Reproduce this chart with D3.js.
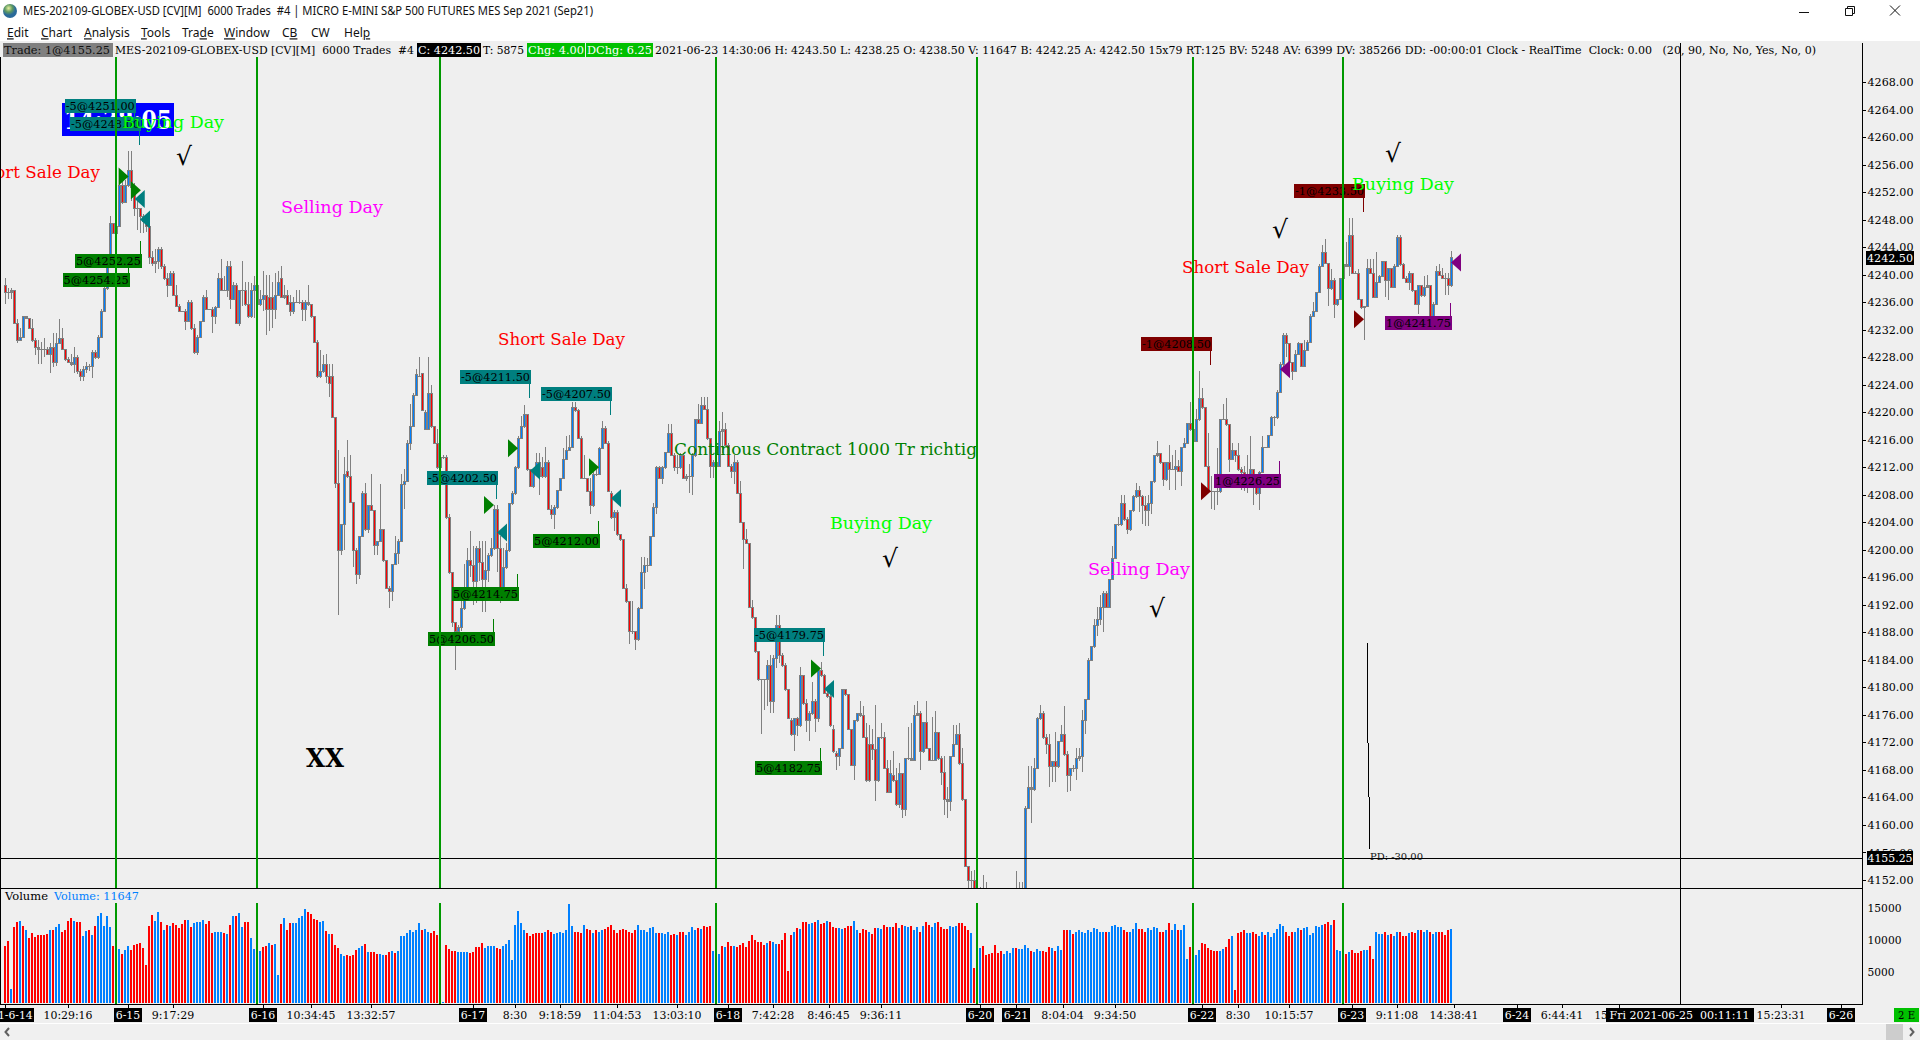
<!DOCTYPE html>
<html><head><meta charset="utf-8"><title>MES-202109-GLOBEX-USD</title>
<script src="https://cdn.jsdelivr.net/npm/d3@7"></script>
<style>html,body{margin:0;padding:0;background:#fff;overflow:hidden}svg{display:block}text{white-space:pre}</style>
</head><body><svg id="c" width="1920" height="1040" viewBox="0 0 1920 1040"></svg>
<script>
const closes=[
4237.5,4237.5,4237.75,4233,4230.5,4231,4234,4233.75,4232.25,4230.5,
4229.5,4229.25,4229.25,4229.25,4228.5,4229.5,4227.25,4230,4230.75,4229.25,
4227.75,4227.25,4227,4228,4226,4225.25,4226.25,4226.75,4226.75,4228.75,
4228,4231,4234.75,4238,4241.5,4247.5,4246,4247,4253,4250.5,
4253,4255.25,4252.75,4249.75,4249.75,4248.5,4247.75,4247,4242.5,4241.75,
4242,4243.75,4241.25,4239.5,4238.5,4240.25,4237,4235.5,4234.75,4234.75,
4233.25,4236,4232.25,4228.75,4231,4233.25,4236.75,4235,4235,4234,
4235.25,4239.5,4237.75,4237.75,4241.25,4236.5,4238.5,4233,4237.75,4237.75,
4235.75,4234,4237.75,4238.5,4235.75,4236.5,4237,4235,4235,4235,
4237,4239,4236.75,4236.75,4235.75,4234.75,4236,4236,4236,4235,
4236,4235.75,4234,4230.25,4225.25,4226,4227,4225.25,4224.25,4219.25,
4209.75,4200,4203.75,4211,4210.75,4207,4200,4196.5,4202,4208.25,
4203,4206.5,4205.75,4200.75,4201.25,4203,4198.5,4194.5,4194,4198,
4199.5,4201.25,4209.5,4210,4215.5,4218,4222.5,4225.5,4225.25,4220.25,
4220,4222.75,4218,4215.5,4212,4213.5,4213.5,4204.75,4196.75,4189.5,
4188.25,4188.75,4191.5,4192.75,4198.5,4197.75,4195.5,4200.25,4198.25,4195.75,
4197,4199.25,4200.25,4206,4200.25,4194.5,4197.5,4200,4206.75,4208.25,
4212,4216.25,4218,4219.75,4211.75,4209.25,4211.5,4212.75,4210.75,4210.75,
4212.75,4206,4205.25,4206.25,4208.75,4210.5,4213.25,4214.5,4215,4220.75,
4220.25,4216.25,4210.5,4210.5,4208.5,4206.5,4211,4211,4214.75,4217.75,
4215.5,4208.5,4204.75,4205.5,4202.25,4201.5,4194.5,4192.5,4188.25,4188.25,
4187,4191.5,4196.75,4197.75,4197.75,4202,4206.25,4212,4210.5,4212,
4214.25,4217,4213.75,4212,4212,4213.75,4210.5,4210.75,4210.75,4213.75,
4219,4218.5,4221,4220.5,4216.25,4212.25,4212.75,4212.25,4217.25,4217.5,
4215.25,4212.25,4211.5,4212.75,4208.25,4204,4201.5,4201,4191.75,4190.25,
4185.25,4181.25,4181.25,4181.25,4183.25,4178,4184.25,4189,4184.75,4183.25,
4179.75,4175.5,4173.25,4175.5,4174.5,4181.75,4177.75,4175.25,4176.25,4178,
4175.5,4182.5,4181.75,4179.25,4178.75,4174.5,4170.75,4170,4171.25,4179.75,
4179,4174,4168.75,4175.25,4176.25,4176,4172.75,4166.5,4166.5,4171,
4166.5,4172.75,4172.75,4168.25,4164.75,4167.5,4166.5,4163,4167.5,4162.25,
4169.75,4169.75,4169.5,4176,4176.25,4170.75,4175,4171.25,4169.5,4169.5,
4173.5,4169.75,4167.75,4163.75,4163.5,4170,4171.75,4173.25,4169,4163.75,
4154,4152,4152,4150.75,4150.5,4150.75,4150,4149,4148.5,4148,
4147.5,4147,4146.5,4147,4147.75,4148.5,4149.25,4148.5,4149,4149.5,
4162.5,4165.5,4165.25,4168.25,4175.5,4176.25,4172.75,4171.75,4168.5,4169.25,
4168.5,4172.25,4173.25,4170.25,4167.25,4168.25,4168.25,4169.75,4170,4175.25,
4178.25,4184,4186,4189,4190,4191.75,4193.75,4191.75,4195.75,4198.75,
4203.75,4203.75,4206.75,4204.5,4203,4205.75,4207.75,4208.75,4207.75,4206.5,
4205.75,4206.75,4210,4213.75,4214,4212.75,4210.25,4212.75,4211.75,4211.75,
4212.25,4211.5,4215,4215.5,4218.5,4217.5,4215.75,4219,4222,4220.75,
4212.25,4208.5,4208.5,4208.5,4208.5,4219,4219,4218.25,4213.25,4214.5,
4213.75,4211.75,4211.25,4210.5,4210.75,4211.75,4210.75,4208.25,4211.25,4215,
4215,4216.75,4219.25,4219.25,4223,4227,4231.25,4230,4227.25,4226,
4228.5,4230,4226.75,4229,4230.25,4234,4234.75,4237.5,4241.25,4243.25,
4241.75,4238,4239.25,4235.75,4236.5,4239.5,4241.5,4241.25,4245.75,4240.25,
4240.25,4236.5,4235.25,4235.5,4241,4240.25,4236.75,4239,4239.75,4242,
4239.25,4241,4238.25,4241.25,4245.5,4241.5,4239.5,4239,4240.25,4237.75,
4235.75,4238.5,4237,4238.25,4238.5,4234,4235.75,4240.5,4240,4239.5,
4239.5,4238.5,4242.5];
const highs=[
4239.5,4238,4238,4237.75,4233.5,4232.25,4234,4234,4233.75,4233.5,
4230.75,4230.5,4230.25,4230.75,4229.5,4230,4231.5,4231.5,4233.5,4232.25,
4229.25,4228,4228.5,4229.5,4228.25,4226.25,4226.75,4227.25,4227,4229,
4229,4231.25,4235,4238.25,4241.75,4248.5,4247.5,4248.25,4254.5,4253.75,
4253.75,4258,4258,4253.25,4250.75,4249.75,4248.75,4248.5,4247,4243.5,
4243.75,4244,4244,4241.5,4240.25,4240.5,4240.5,4238.5,4235.75,4234.75,
4235,4236.25,4236.25,4232.75,4231.25,4233.25,4237,4237.75,4235,4235.25,
4235.5,4240.25,4242.25,4239.75,4242,4242,4239,4238.75,4237.75,4242,
4239,4239,4238.75,4239.75,4238.5,4237.75,4240.5,4240,4240,4239,
4240.25,4240.5,4241.25,4238.5,4237.75,4237,4236.75,4237.75,4237.75,4236.25,
4236.25,4238.5,4235.75,4234,4230.5,4229,4228.25,4228.5,4227,4227,
4219,4214.5,4203.75,4213.5,4216,4213.75,4207,4200.25,4202,4208.5,
4209.75,4206.5,4211,4205.75,4201.25,4209.5,4203,4198.5,4194.75,4198,
4202,4201.5,4211,4211.75,4216,4221.25,4222.75,4226.25,4228,4225.75,
4220.25,4228,4224,4218,4217.5,4213.75,4213.75,4213.75,4205.25,4196.75,
4189.5,4189,4192.5,4198,4200.25,4202.75,4200.5,4200.5,4201.25,4201.25,
4201.25,4199.5,4201.75,4206.5,4206.5,4202,4200.25,4201,4206.75,4208.5,
4212.25,4216.5,4219.5,4221,4219.75,4211.75,4211.5,4214,4214,4213.5,
4215,4213,4206.5,4206.5,4208.75,4210.5,4214.75,4216.5,4216.75,4221.5,
4221.5,4220.5,4216.5,4213.75,4210.5,4210.5,4211.25,4211.75,4215,4218.75,
4218,4215.75,4208.5,4205.75,4205.75,4202.25,4201.5,4195,4192.5,4192.5,
4188,4191.75,4199,4199,4198.75,4202,4206.75,4212.25,4212.25,4212.25,
4214.25,4218.25,4218.25,4214,4213.75,4214,4214,4211,4212.5,4214,
4219,4221.25,4222.25,4222.25,4222.25,4216.25,4213,4216,4218.75,4220,
4218.5,4215.5,4212.5,4213.75,4213,4210,4203.75,4203,4201,4192.75,
4190.25,4185.25,4181.25,4181.25,4184,4184.75,4184.75,4190.5,4190.5,4185,
4183.5,4179.75,4175.5,4175.5,4175.75,4183,4181.75,4178.25,4176.5,4180.75,
4178.25,4182.5,4183.75,4182,4180,4179.5,4174.5,4170.75,4171.25,4179.75,
4179.75,4179,4174,4175.25,4176.25,4178,4177.25,4174.75,4174.5,4174,
4177.5,4172.75,4174.75,4173.5,4169.5,4169.5,4170.75,4168.25,4169,4167.5,
4169.75,4174.25,4174.75,4177.5,4178,4176.5,4175,4178,4171.25,4175.75,
4176.5,4173.5,4170,4170,4165.5,4170,4174.5,4174.5,4174.75,4171.25,
4163.75,4154,4153.25,4153.5,4152.75,4151,4152.75,4151.75,4150,4149.5,
4149,4148.5,4148,4148,4149,4150,4150.5,4153.25,4151.75,4151.75,
4162.75,4168.5,4168.5,4169.75,4175.75,4177.5,4176.5,4173.25,4173.25,4169.25,
4173.5,4172.25,4174.5,4177.25,4170.75,4168.25,4168.75,4171.25,4171.25,4176.75,
4178.25,4184.25,4186,4190,4191.75,4193.5,4194,4194,4195.75,4200.5,
4203.75,4204.75,4208,4208,4204.75,4205.75,4208,4209.75,4209.25,4208,
4207.75,4208,4210,4213.75,4215.75,4214,4212.75,4212.75,4215.25,4213.75,
4214.5,4213,4215,4216.25,4218.5,4221.5,4217.5,4220.5,4226,4223.5,
4220.75,4217,4210.75,4208.5,4214.75,4219,4221.25,4222,4218.25,4215.5,
4214.5,4215.5,4212,4212.25,4213.75,4216.5,4211.75,4211,4211.5,4216.5,
4215,4216.75,4219.5,4219.5,4223.25,4227.25,4231.5,4231.5,4230,4227.25,
4229,4230.25,4230,4230.5,4230.5,4234.25,4236,4237.5,4241.5,4244.25,
4245.25,4241.75,4240.75,4239.5,4236.5,4239.5,4241.75,4244.75,4248.25,4248.25,
4240.5,4240.75,4236.5,4235.5,4242.25,4242.25,4242.25,4243.25,4240,4242,
4242,4241,4241,4241.5,4245.75,4245.75,4241.75,4239.75,4240.5,4240.25,
4237.75,4238.5,4238.5,4239.75,4240,4238.5,4236,4241.25,4241.5,4241,
4240.25,4240.25,4243.5];
const lows=[
4235.75,4236.5,4236.5,4233,4230,4230.5,4231,4233.75,4232.25,4230.25,
4228.25,4227,4227,4228,4228.25,4225.75,4226.5,4226.75,4230,4229,
4227.5,4227.25,4226.75,4225.75,4225.5,4224.5,4224.5,4225.75,4226,4225,
4227.75,4227.75,4231,4234.5,4237.75,4241.5,4246,4246,4248,4250.25,
4250.5,4252.75,4250.75,4248.5,4246.5,4246,4246,4246.25,4241.5,4241.25,
4240.25,4240.75,4240.75,4239.25,4236.75,4238.5,4237,4235.25,4234.5,4234.5,
4232,4233.25,4232,4228.5,4228.25,4231,4233.25,4235,4235,4231.5,
4232.75,4235.25,4237.75,4237.75,4236.75,4235,4236.25,4232.75,4232.5,4235.5,
4235.5,4233.75,4233.75,4233.75,4235.5,4235.5,4234.75,4231.25,4231.75,4232.25,
4233.5,4237,4236.75,4236.5,4235.75,4234,4234.25,4236,4235.75,4233.25,
4233.25,4235.5,4233.75,4230,4225,4225,4225.75,4224.25,4222.25,4219.25,
4209,4190.5,4199.25,4200,4210.5,4206.75,4197.5,4195,4195.75,4202,
4202.75,4202.5,4205.75,4199.25,4199.25,4201.25,4198.25,4194.5,4191.5,4192.5,
4198,4198,4201.25,4206,4210,4214.5,4218,4222.5,4225.25,4220.25,
4217.5,4217.5,4217.75,4215.5,4211.75,4212,4213.25,4204.5,4196.5,4188.75,
4182.5,4187.75,4188.25,4191.25,4192.5,4196,4192,4192.25,4195.5,4191,
4191,4195.25,4199,4200,4196.75,4192.25,4193.75,4197.25,4199.75,4206.5,
4208,4211.75,4216.25,4217.75,4211.5,4209.25,4209,4211.5,4208,4210.5,
4210.5,4205.75,4204.5,4203,4206,4208.5,4210.5,4213,4214.75,4214.75,
4220,4216.25,4210.5,4210.5,4208.5,4205.25,4206.25,4210.75,4211,4214.75,
4215.5,4208.5,4204.5,4202.75,4202,4201.25,4194.25,4192.25,4186.25,4187.75,
4185.5,4186.75,4191.5,4194.25,4196.75,4197.75,4202,4205.25,4210.25,4209.5,
4211.75,4214,4213.75,4211.5,4211,4211.75,4210.25,4210,4208.25,4208,
4213.5,4218.5,4218.25,4220.25,4216,4210.5,4210.5,4212.25,4212.25,4214,
4215.25,4212.25,4210.5,4209.5,4208.25,4204,4197.25,4201,4191.5,4190,
4185,4181,4173.25,4176.75,4177.25,4176.25,4176.25,4182.75,4183.5,4183,
4179.5,4175.5,4173,4170.75,4173,4174.25,4177.5,4173.5,4172.25,4176,
4173.5,4175,4181.5,4179,4178.5,4174.25,4170.5,4168,4168.5,4171,
4178.75,4173.75,4168.5,4166.5,4175,4175.75,4172.75,4166.25,4166.25,4169.5,
4163.5,4166.25,4172.5,4168.25,4164.75,4164.75,4166.25,4162.75,4162.5,4161,
4161.25,4169.5,4169.5,4169.25,4176.25,4168,4170.5,4171.25,4169.25,4169.25,
4169.5,4169.5,4165.75,4161.5,4161,4162,4170,4171.75,4168.75,4163.5,
4154,4150.75,4150.75,4150.75,4149.5,4149,4148.5,4148,4147.5,4147,
4146.5,4146,4145.5,4146,4146.5,4147.5,4148.5,4147.5,4148,4148.5,
4149.25,4162.5,4160.25,4165,4168.25,4175.25,4172.5,4170.25,4165.5,4166.25,
4166.25,4168.25,4172,4170,4164.75,4165,4167.75,4166.5,4169.25,4167.75,
4173.25,4178.25,4184.25,4185.75,4187.5,4189,4188,4191.5,4191.5,4195.75,
4198.75,4203.5,4203.5,4204.25,4202.25,4202.75,4205.5,4207.5,4205.5,4203.75,
4203.5,4203.5,4205.25,4209.75,4213.5,4212.5,4209.25,4210,4208.75,4211.75,
4208.75,4211.25,4209.25,4214.75,4215.5,4217.25,4215.75,4215.75,4218.75,4220.5,
4212.25,4208.25,4206,4205.75,4206.5,4208.25,4219,4218,4211.25,4213,
4212.75,4211.5,4208.75,4208.5,4208.25,4210.5,4206.5,4208,4205.75,4211.25,
4214.75,4214.75,4216.75,4218,4219,4223,4226.5,4228,4227.25,4224.75,
4226,4228.5,4226.5,4226.5,4229,4230,4234,4234.75,4237.5,4241.25,
4241.5,4235.5,4237.75,4233.75,4235.5,4236.5,4239.5,4241.25,4239.75,4240.25,
4240.25,4236.25,4235,4230.5,4235.5,4240.25,4236.75,4236.75,4239,4239.75,
4236.75,4236.25,4238.25,4238.25,4241.25,4241.25,4239.5,4238.75,4237.75,4237.5,
4235.75,4234.25,4236.75,4236.75,4238.25,4234,4232.5,4235.75,4240,4239.5,
4237,4237,4238.25];
// bars whose open differs from the previous close: [bar, open]
const openExceptions=[[0,4238.5],[88,4236.75],[89,4236.75],[92,4239.5],[93,4237],[94,4237],[95,4236],[109,4225.25],[114,4211.5],[115,4210.75],[138,4225.25],[139,4225.75],[140,4217.5],[141,4217.5],[179,4212],[202,4208.25],[262,4175.25],[276,4174],[277,4170.5],[288,4171.75],[289,4171.75],[296,4167.25]];
// signed volume: positive = up bar (blue), negative = down bar (red)
const signedVolume=[
-8960,-9740,2240,-12080,-12860,13020,-12130,11460,-10260,-10990,
-10420,-10680,-10680,-10680,-10880,11610,-11460,11980,12550,-11200,
-11560,-13020,-13490,13020,-12860,-12760,10520,11350,-11460,10680,
-12240,13800,14170,12240,13800,12080,-8960,9370,8490,-7810,
8330,8960,-8440,-9110,-9270,-9430,-8750,-5990,-12240,-13960,
13020,14430,-12860,11610,-12400,12240,-12650,-12400,-11870,-12500,
-13130,13180,-11980,12600,12760,12860,13070,-12500,-13020,-11040,
11300,11300,11300,-11090,10880,-12400,13800,-13800,14270,12080,
-12760,-12860,10210,8490,-8960,8230,-8800,-8960,9430,-9110,
9270,4430,-12550,13490,-11610,-12600,12710,12710,13490,13800,
14900,-14430,-14120,-13330,-13070,12860,13020,-11350,10830,-10830,
-9110,-8750,7710,7400,-7550,-7450,-7550,-8330,8650,8960,
-9270,8020,-8020,-8020,-7710,7710,7550,-7550,-8020,8180,
-7860,8180,10520,10520,11140,11610,11300,11460,12710,-11460,
11770,11300,-10990,-11350,-10680,-10680,210,-9110,-8490,-8180,
-8180,8020,8020,8020,8020,-7860,-8020,-8800,-8800,-9430,
8650,8960,8960,8960,-8650,-8490,8960,9270,9900,6770,
12400,14580,12710,11610,-11140,-10520,-10830,-11140,-10990,-10990,
11300,-11460,-11300,10830,10990,11300,10990,11610,15680,12240,
-11300,-11300,-11140,12400,-11770,-11460,11140,-11610,11300,11610,
-11770,-12080,-12400,-11610,-11140,-11460,-11770,-11460,-11300,-11140,
-11460,12400,11610,11610,11300,11930,12080,10990,-10990,10990,
10830,11300,-10680,-10830,10680,-11150,-11150,10680,11300,12080,
11610,-11930,11770,-12240,-12080,-12240,8180,7900,7710,-8960,
8800,-9580,-8960,8960,-8800,-9110,-9430,-8800,-9740,-10680,
-9900,-9580,-9580,-9110,9430,-9740,9580,9270,-9270,-9900,
-10990,-5050,-10680,11150,-11930,11770,-12860,-12860,12550,12710,
-12860,13180,-12550,-12710,13020,-12860,-12080,-11930,11930,11770,
-11930,-12240,-12240,13020,11610,-10990,-11770,-11610,11150,-10830,
-11930,11930,11770,-12400,-12080,12080,-12080,-12710,11930,-12400,
12240,12080,-12240,11610,12080,-11300,12240,-12860,-12400,12080,
12710,-12860,-12080,-11770,-11770,12240,12080,12240,-12710,-12710,
-12240,-11460,10990,-5520,9000,8650,-8960,-7550,-7710,-7860,
-9110,-7860,-8180,7710,8180,7860,8650,-8650,8490,8490,
9110,8650,-8180,8020,8490,8180,-8180,-8020,-8800,8650,
-8180,8960,8330,-11460,-11610,11610,-10830,11150,11460,11300,
10990,11610,11300,11930,11770,11300,11300,-11150,11300,12240,
12400,12080,12080,-11460,-11150,11150,11770,12710,-11770,-11770,
-11150,11930,11610,12080,11930,-11300,-11150,11610,-12710,11610,
12550,-11610,11460,12400,6930,-8800,8330,7550,8330,-9430,
-9270,-8650,-8330,-8180,-8180,8180,8490,-8800,-10050,10520,
-2080,-10990,-11150,-11610,10990,10990,-11150,-10830,10520,11300,
-10680,11150,10360,10990,11770,12550,12240,-11300,-10520,-11150,
11300,11930,-11460,11930,12080,10680,10990,12240,12080,12400,
-12550,-12860,12400,-13180,8330,8180,8000,-7710,8020,-8330,
-7860,-7860,-8180,8330,8330,-8960,-6930,11300,10830,10830,
-11150,10680,-10830,10520,11150,-11300,-10520,-10520,10990,-11300,
-10990,11460,-11610,11150,11610,-11300,10830,11300,-11150,-11150,
-10680,-11610,11647];

const priceTicks=d3.range(4152,4269,4);
const volumeTicks=[5000,10000,15000];
const dayStartBars=[37,84,145,237,324,396,446];
const timeTickBars=[0,21,41,56,86,102,122,156,170,185,204,224,241,256,274.5,292,325,337,352.5,370,399,411,428,449,464,483,504,519,538,592,612];
const timeTickLabels=["2021-6-14","10:29:16","6-15","9:17:29","6-16","10:34:45","13:32:57","6-17","8:30","9:18:59","11:04:53","13:03:10","6-18","7:42:28","8:46:45","9:36:11","6-20","6-21","8:04:04","9:34:50","6-22","8:30","10:15:57","6-23","9:11:08","14:38:41","6-24","6:44:41","15","15:23:31","6-26"];
const crosshairBar=558.2, crosshairLabel="Fri 2021-06-25  00:11:11";
const lastTradePrice=4155.25, lastClose=4242.5;
const tradeLabels=["5@4254.25","5@4252.25","-5@4251.00","-5@4248.00","5@4206.50","5@4214.75","-5@4202.50","-5@4211.50","5@4212.00","-5@4207.50","5@4182.75","-5@4179.75","-1@4208.50","1@4226.25","-1@4233.50","1@4241.75"];
const tradePrices=[4254.25,4252.25,4251,4248,4206.5,4214.75,4202.5,4211.5,4212,4207.5,4182.75,4179.75,4208.5,4226.25,4233.5,4241.75];
const tradeBars=[41.2,45.3,43.25,45,163,171,164,175,198,202,272,273,402,425,453,482];
const tradeLabelTops=[273,254,99,117,632,587,471,370,534,387,761,628,337,474,184,316];
const pdBars=[454,454.33,455], pdPrices=[4186.5,4172,4156.5];

const svg=d3.select("#c");
const xS=d3.scaleLinear([0,482],[5,1451]);
const yS=d3.scaleLinear([4152,4268],[880,82]);
const vS=d3.scaleLinear([0,15000],[1003.3,908]);
const SERIF='"DejaVu Serif"', SANS='"Noto Sans"';
const BG="#efefef";
function txt(g,s,x,y,o={}){
  const t=g.append("text").attr("x",x).attr("y",y).attr("dy","0.36em").text(s)
   .attr("font-family",o.f||SERIF).attr("font-size",o.s||11).attr("fill",o.c||"#000")
   .attr("text-anchor",o.a||"start");
  if(o.w)t.attr("font-weight",o.w);
  if(o.l)t.attr("textLength",o.l).attr("lengthAdjust","spacingAndGlyphs");
  return t;
}
function rect(g,x,y,w,h,c){return g.append("rect").attr("x",x).attr("y",y).attr("width",w).attr("height",h).attr("fill",c).attr("shape-rendering","crispEdges");}

// window chrome
rect(svg,0,0,1920,1040,"#fff");
rect(svg,0,41,1920,982,BG);
rect(svg,0,1024,1920,16,"#f0f0f0");
const defs=svg.append("defs");
const gr=defs.append("radialGradient").attr("id","globe").attr("cx","40%").attr("cy","30%");
gr.append("stop").attr("offset","0%").attr("stop-color","#e8f0a0");
gr.append("stop").attr("offset","55%").attr("stop-color","#5f9a60");
gr.append("stop").attr("offset","100%").attr("stop-color","#2a6a9a");
svg.append("circle").attr("cx",10).attr("cy",11).attr("r",7).attr("fill","url(#globe)");
txt(svg,"MES-202109-GLOBEX-USD [CV][M]  6000 Trades  #4 | MICRO E-MINI S&P 500 FUTURES MES Sep 2021 (Sep21)",23,11,{f:SANS,s:12,l:570,c:"#111"});
const menuNames=["Edit","Chart","Analysis","Tools","Trade","Window","CB","CW","Help"];
const menuX=[7,41,84,141,182,224,282,311,344];
const menuUnderline=[0,0,0,0,3,0,1,-1,3];
menuNames.forEach((m,i)=>{
  const t=txt(svg,"",menuX[i],33,{f:SANS,s:12,c:"#111"});
  [...m].forEach((ch,k)=>{const ts=t.append("tspan").text(ch);if(k===menuUnderline[i])ts.attr("text-decoration","underline");});
});
const wc=svg.append("g").attr("stroke","#111").attr("fill","none").attr("stroke-width",1);
wc.append("path").attr("d","M1799 12.5H1809");
wc.append("path").attr("d","M1845.5 8.5h7v7h-7zM1847.5 8.5v-2h7v7h-2");
wc.append("path").attr("d","M1890 5.5L1900 15.5M1900 5.5L1890 15.5");

// status strip
const sY=50;
[[3,110,"#808080"],[417,64,"#000"],[527,58,"#00c000"],[586,67,"#00c000"]].forEach(d=>rect(svg,d[0],43,d[1],14,d[2]));
txt(svg,"Trade: 1@4155.25",4,sY,{l:106,c:"#111"});
txt(svg,"MES-202109-GLOBEX-USD [CV][M]  6000 Trades  #4",115,sY,{l:299});
txt(svg,"C: 4242.50",418,sY,{l:62,c:"#fff"});
txt(svg,"T: 5875",483,sY,{l:41});
txt(svg,"Chg: 4.00",528,sY,{l:56,c:"#fff"});
txt(svg,"DChg: 6.25",587,sY,{l:65,c:"#fff"});
txt(svg,"2021-06-23 14:30:06 H: 4243.50 L: 4238.25 O: 4238.50 V: 11647 B: 4242.25 A: 4242.50 15x79 RT:125 BV: 5248",655,sY,{l:624});
txt(svg,"AV: 6399 DV: 385266 DD: -00:00:01 Clock - RealTime  Clock: 0.00   (20, 90, No, No, Yes, No, 0)",1283,sY,{l:533});

// panels
const clip=defs.append("clipPath").attr("id","mainClip");
clip.append("rect").attr("x",0).attr("y",57).attr("width",1862).attr("height",831);
const main=svg.append("g").attr("clip-path","url(#mainClip)");

// candles
const openOverride=new Map(openExceptions);
const candles=closes.map((c,i)=>{
  const o=openOverride.has(i)?openOverride.get(i):closes[i-1];
  return {i,o,c,h:Math.max(highs[i],o,c),l:Math.min(lows[i],o,c)};
});
const cg=main.append("g").attr("shape-rendering","crispEdges");
cg.selectAll("rect.w").data(candles).join("rect").attr("class","w")
  .attr("x",d=>Math.round(xS(d.i))).attr("width",1)
  .attr("y",d=>Math.round(yS(d.h))).attr("height",d=>Math.max(1,Math.round(yS(d.l))-Math.round(yS(d.h))))
  .attr("fill","#808080");
cg.selectAll("rect.b").data(candles).join("rect").attr("class","b")
  .attr("x",d=>Math.round(xS(d.i))-1).attr("width",3)
  .attr("y",d=>Math.round(yS(Math.max(d.o,d.c))))
  .attr("height",d=>Math.max(1,Math.round(yS(Math.min(d.o,d.c)))-Math.round(yS(Math.max(d.o,d.c)))+1))
  .attr("fill","#808080");
cg.selectAll("rect.f").data(candles.filter(d=>Math.abs(yS(d.o)-yS(d.c))>=2.5)).join("rect").attr("class","f")
  .attr("x",d=>Math.round(xS(d.i))).attr("width",1)
  .attr("y",d=>Math.round(yS(Math.max(d.o,d.c)))+1)
  .attr("height",d=>Math.round(yS(Math.min(d.o,d.c)))-Math.round(yS(Math.max(d.o,d.c)))-1)
  .attr("fill",d=>d.c>d.o?"#0080ff":"#ff0000");

// clock box & day annotations
rect(main,62,103,112,33,"#0000ff");
txt(main,"14:38:05",118,120,{s:26,w:"bold",c:"#fff",a:"middle",l:108});

// trade labels + markers
const tradeColor=l=>l.startsWith("-5")?"#007f7f":l.startsWith("5")?"#007f00":l.startsWith("-1")?"#7f0000":"#7f007f";
tradeLabels.forEach((lab,i)=>{
  const col=tradeColor(lab), x=xS(tradeBars[i]), y=yS(tradePrices[i]);
  const pointsRight=lab.startsWith("5")||lab.startsWith("-1");
  const w=lab.startsWith("-")?71:67, top=tradeLabelTops[i], right=x+1;
  main.append("path").attr("fill",col)
    .attr("d",pointsRight?`M${x-10} ${y-9}L${x} ${y}L${x-10} ${y+9}Z`:`M${x} ${y}L${x+10} ${y-9}L${x+10} ${y+9}Z`);
  const stemDown=lab.startsWith("-");
  rect(main,Math.round(right)-2,stemDown?top+14:top-13,1,stemDown?14:13,col);
  rect(main,right-w,top,w,14,col);
  txt(main,lab,right-w+1,top+7,{l:w-2,c:"#000"});
});
const annotations=[
 ["Short Sale Day",-27,172,127,"#ff0000"],["Short Sale Day",1182,267,127,"#ff0000"],["Short Sale Day",498,339,127,"#ff0000"],
 ["Buying Day",122,122,102,"#00ff00"],["Buying Day",1352,184,102,"#00ff00"],["Buying Day",830,523,102,"#00ff00"],
 ["Selling Day",281,207,102,"#ff00ff"],["Selling Day",1088,569,102,"#ff00ff"],
 ["Continous Contract 1000 Tr richtig",674,449,303,"#008000"]];
annotations.forEach(a=>txt(main,a[0],a[1],a[2],{s:17,l:a[3],c:a[4]}));
txt(main,"XX",306,758,{s:26,w:"bold",l:38});
[[184,156],[890,558],[1157,608],[1280,229],[1393,153]].forEach(p=>txt(main,"√",p[0],p[1],{s:25,a:"middle",f:'"DejaVu Serif"'}));

// last-trade line and PD measure
const lastY=Math.round(yS(lastTradePrice));
rect(svg,0,lastY,1862,1,"#000");
main.append("path").datum(pdBars.map((b,i)=>[b,pdPrices[i]])).attr("fill","none").attr("stroke","#000").attr("shape-rendering","crispEdges")
  .attr("d",d3.line().x(d=>xS(d[0])).y(d=>yS(d[1])));
txt(main,"PD: -30.00",1370,856,{s:10,l:53,c:"#111"});

// frame lines
rect(svg,0,888,1862,1,"#000");
rect(svg,0,1004,1862,1,"#000");
rect(svg,0,57,1,947,"#000");
rect(svg,1862,43,1,962,"#000");
rect(svg,Math.round(xS(crosshairBar)),43,1,961,"#000");

// green day lines
const dayG=svg.append("g");
dayG.selectAll("rect.m").data(dayStartBars).join("rect").attr("class","m").attr("x",d=>Math.round(xS(d))-1).attr("width",2).attr("y",57).attr("height",831).attr("fill","#009900").attr("shape-rendering","crispEdges");

// volume
txt(svg,"Volume",5,896,{l:43});
txt(svg,"Volume: 11647",54,896,{l:85,c:"#0080ff"});
svg.append("g").attr("shape-rendering","crispEdges").selectAll("rect").data(signedVolume).join("rect")
  .attr("x",(d,i)=>Math.round(xS(i))-1).attr("width",2)
  .attr("y",d=>vS(Math.abs(d))).attr("height",d=>vS(0)-vS(Math.abs(d)))
  .attr("fill",d=>d>=0?"#0080ff":"#ff0000");
dayG.raise();
dayG.selectAll("rect.v").data(dayStartBars).join("rect").attr("class","v").attr("x",d=>Math.round(xS(d))-1).attr("width",2).attr("y",903).attr("height",101).attr("fill","#009900").attr("shape-rendering","crispEdges");

// right axes
function styleAxis(g){g.select(".domain").remove();g.selectAll("line").attr("stroke","#000").attr("shape-rendering","crispEdges");
  g.selectAll("text").attr("font-family",SERIF).attr("font-size",11).attr("fill","#000");}
const yAx=svg.append("g").attr("transform","translate(1862.5,0)").call(d3.axisRight(yS).tickValues(priceTicks).tickFormat(d3.format(".2f")).tickSize(3).tickPadding(2));
styleAxis(yAx);yAx.selectAll("text").attr("textLength",46).attr("lengthAdjust","spacingAndGlyphs");
const vAx=svg.append("g").attr("transform","translate(1862.5,0)").call(d3.axisRight(vS).tickValues(volumeTicks).tickFormat(d3.format("d")).tickSize(0).tickPadding(5));
styleAxis(vAx);vAx.selectAll("text").attr("textLength",d=>d>=10000?34:27).attr("lengthAdjust","spacingAndGlyphs");
rect(svg,1866,251,48,14,"#000");
txt(svg,"4242.50",1867,258,{c:"#fff",l:46});
rect(svg,1867,851,46,14,"#000");
txt(svg,"4155.25",1867.5,858,{c:"#fff",l:45});

// time axis
const tAx=svg.append("g").attr("transform","translate(0,1004.5)").call(d3.axisBottom(xS).tickValues(timeTickBars).tickFormat("").tickSize(3));
tAx.select(".domain").remove();tAx.selectAll("line").attr("stroke","#000").attr("shape-rendering","crispEdges");
const isDate=s=>/^(\d{4}-)?\d-\d+$/.test(s);
const widthOf=s=>[...s].reduce((a,ch)=>a+(ch===":"?5:ch==="-"?5:6.5),0);
timeTickBars.forEach((b,i)=>{
  const lab=timeTickLabels[i], cx=xS(b);
  if(lab==="15"){txt(svg,lab,cx-24.5,1015,{l:13});return;}
  if(isDate(lab)){const w=widthOf(lab)+3;rect(svg,cx-w/2,1008,w,14,"#000");txt(svg,lab,cx,1015,{c:"#fff",a:"middle",l:widthOf(lab)});}
  else txt(svg,lab,cx,1015,{a:"middle",l:widthOf(lab)});
});
const cx0=xS(crosshairBar);
rect(svg,cx0-74,1008,148,14,"#000");
txt(svg,crosshairLabel,cx0,1015,{c:"#fff",a:"middle",l:140});
rect(svg,1894,1008,25,14,"#00c000");
txt(svg,"2 E",1906.5,1015,{a:"middle",l:17});

// scrollbar
svg.append("path").attr("d","M9 1028L5.5 1032L9 1036").attr("fill","none").attr("stroke","#606060").attr("stroke-width",2);
rect(svg,1886,1024,17,16,"#cdcdcd");
svg.append("path").attr("d","M1910 1028L1913.5 1032L1910 1036").attr("fill","none").attr("stroke","#606060").attr("stroke-width",2);
</script></body></html>
